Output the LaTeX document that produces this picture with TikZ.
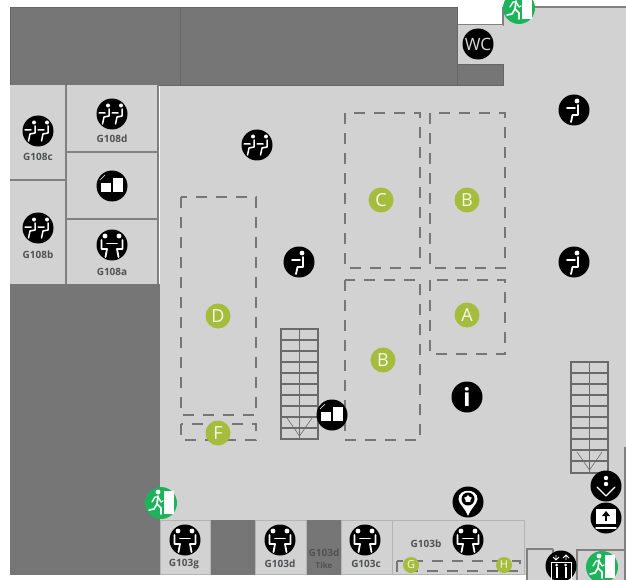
\documentclass[tikz,border=0pt]{standalone}
\usepackage{fontspec}
\setmainfont{Open Sans}
\usetikzlibrary{shapes.geometric}
\definecolor{floorgray}{HTML}{D2D2D2}
\definecolor{darkgray}{HTML}{767676}
\definecolor{wallgray}{HTML}{808080}
\definecolor{edgegray}{HTML}{B4B4B4}
\definecolor{labelgray}{HTML}{505153}
\definecolor{zonegreen}{HTML}{A5BC3C}
\definecolor{exitgreen}{HTML}{1CB35B}
\tikzset{
  room/.style={draw=edgegray,fill=floorgray,line width=1pt},
  partition/.style={draw=wallgray,line width=1.3pt},
  blockd/.style={draw=wallgray!80!black,fill=darkgray,line width=.8pt},
  zone/.style={draw=darkgray,line width=1.4pt,dash pattern=on 11pt off 9pt},
  tread/.style={draw=darkgray!90!black,line width=1.4pt},
  icon/.style={circle,fill=black,minimum size=31pt,inner sep=0pt,text=white},
  zonemark/.style={circle,fill=zonegreen,minimum size=25pt,inner sep=0pt,text=white!90!zonegreen,font=\fontsize{18}{18}\selectfont},
  zonesmall/.style={zonemark,minimum size=16pt,font=\fontsize{11}{11}\selectfont},
  exitmark/.style={circle,fill=exitgreen,minimum size=32pt,inner sep=0pt},
  roomname/.style={text=labelgray,font=\fontsize{10}{10}\bfseries\selectfont,inner sep=0pt},
  gl/.style={draw=white,line width=1.8pt,line cap=round,line join=round},
  seatone/.pic={
    \fill[white] (3,-9) circle (2.4);
    \draw[gl] (-7,-2)--(1,-2);
    \draw[gl] (4,-5)--(4,5)--(-1.5,5)--(-3,12);
  },
  seattwo/.pic={
    \fill[white] (-4,-8.5) circle (2) (9,-8.5) circle (2);
    \draw[gl,line width=1.5pt] (-13,-1)--(-7,-1) (-3,-5)--(-3,2)--(-8,3)--(-9.5,10);
    \draw[gl,line width=1.5pt] (0,-1)--(6,-1) (10,-5)--(10,2)--(5,3)--(3.5,10);
  },
  tablepair/.pic={
    \fill[white] (-7,-9) circle (2.4) (7,-9) circle (2.4);
    \draw[gl] (-10.5,-5)--(-10.5,4)--(-5,4)--(-6.5,12);
    \draw[gl] (10.5,-5)--(10.5,4)--(5,4)--(6.5,12);
    \draw[gl] (-5,-1.5)--(5,-1.5);
  },
  copier/.pic={
    \fill[white] (-11,-3) rectangle (-1,6);
    \fill[white] (1,-8) rectangle (11,6);
    \draw[white,line width=.5pt] (-12,-6)--(-7,-11);
  },
  pinmark/.pic={
    \fill[white] (0,14) .. controls (-2,7) and (-9.5,2) .. (-9.5,-3) .. controls (-9.5,-14) and (9.5,-14) .. (9.5,-3) .. controls (9.5,2) and (2,7) .. (0,14);
    \fill[black] (0,-3) circle (6.5);
    \node[star,star points=5,fill=white,minimum size=8pt,inner sep=0pt] (pinstar) at (0,-3) {};
  },
  liftdown/.pic={
    \fill[white] (0,-8) circle (2.2) (0,-2) circle (2.2);
    \draw[gl,line width=1.3pt] (-9,1)--(0,10)--(9,1);
  },
  goodsup/.pic={
    \fill[white] (-10,-9) rectangle (10,6);
    \draw[gl,line width=1.4pt] (-10,10)--(10,10);
    \draw[black,line width=1.5pt] (0,3)--(0,-3);
    \fill[black] (-4,-2)--(0,-7)--(4,-2)--cycle;
  },
  liftcar/.pic={
    \draw[white,line width=.8pt] (-10,-4) rectangle (10,16);
    \fill[white] (-4.5,-1) circle (1.5) (4.5,-1) circle (1.5);
    \draw[white,line width=2pt] (-4.5,1)--(-4.5,12) (4.5,1)--(4.5,12);
    \draw[white,line width=.8pt] (-5,-11)--(-5,-6) (-8,-9)--(-5,-6)--(-2,-9) (5,-6)--(5,-11) (2,-8)--(5,-11)--(8,-8);
  },
  exitman/.pic={
    \fill[white] (3,-12) rectangle (13,11);
    \fill[white] (-3,-11) circle (2.4);
    \draw[gl,line width=1.7pt] (-3,-7)--(-4,1)--(0,5)--(0,11);
    \draw[gl,line width=1.7pt] (-4,1)--(-7,6)--(-12,7);
    \draw[gl,line width=1.3pt] (-9,-1)--(-6,-6)--(-3,-6)--(0,-1)--(2,-2);
  },
}
\begin{document}
\begin{tikzpicture}[x=1pt,y=-1pt]
\useasboundingbox (0,0) rectangle (626,580);
% floor
\fill[floorgray] (160,85) rectangle (626,575);
\fill[floorgray] (503,7) rectangle (626,85);
\fill[floorgray] (527,575) rectangle (626,580);
\draw[wallgray,line width=1.2pt] (457,25)--(503,25)--(503,7) (503,7)--(626,7);
\draw[wallgray,line width=1.2pt] (625,447)--(625,580);
% dark blocks
\fill[floorgray] (457,25) rectangle (503,64);
\draw[blockd] (10,7) rectangle (180,85);
\draw[blockd] (180,7) rectangle (457,85);
\draw[blockd] (457,64) rectangle (503,85);
\draw[blockd,draw=none] (10,284) rectangle (160,575);
\draw[blockd,draw=none] (210,520) rectangle (255,575);
\draw[blockd,draw=none] (306,520) rectangle (341,575);
% rooms
\fill[floorgray] (10,85) rectangle (158,284);
\draw[partition] (66,85)--(66,284) (10,180)--(66,180) (66,152)--(158,152) (66,219)--(158,219);
\draw[partition] (158,85)--(158,284);
\draw[room] (160,520) rectangle (210,574);
\draw[room] (255,520) rectangle (306,574);
\draw[room] (341,520) rectangle (392,574);
\draw[room] (392,520) rectangle (524,574);
\fill[white] (395,575) rectangle (527,580);
\draw[wallgray,line width=1.2pt] (527,580)--(527,549)--(553,549) (553,580)--(553,549);
\draw[wallgray,line width=1.2pt] (577,580)--(577,550)--(625,550);
% zones
\draw[zone] (345,113) rectangle (420,268);
\draw[zone] (430,113) rectangle (505,268);
\draw[zone] (181,197) rectangle (256,415);
\draw[zone] (345,280) rectangle (420,440);
\draw[zone] (430,280) rectangle (505,354);
\draw[zone] (181,424) rectangle (256,440);
\draw[zone] (397,561) rectangle (520,571);
% stairs
\draw[tread] (281,329) rectangle (318,439) (299.5,329)--(299.5,439);
\foreach \rung in {1,...,9} \draw[tread] (281,329+11*\rung)--(318,329+11*\rung);
\draw[tread,line width=.6pt] (287,418)--(299.5,436)--(312,418);
\draw[tread] (571,362) rectangle (608,473) (589.5,362)--(589.5,473);
\foreach \rung in {1,...,9} \draw[tread] (571,362+11*\rung)--(608,362+11*\rung);
\draw[tread,line width=.6pt] (577,452)--(589.5,470)--(602,452);
% zone marks
\node[zonemark] (zoneC) at (381,200) {C};
\node[zonemark] (zoneBa) at (467,200) {B};
\node[zonemark] (zoneD) at (218,316) {D};
\node[zonemark] (zoneBb) at (383,360) {B};
\node[zonemark] (zoneA) at (467,315) {A};
\node[zonemark] (zoneF) at (218,433) {F};
\node[zonesmall] (zoneG) at (411,565) {G};
\node[zonesmall] (zoneH) at (504,565) {H};
% icons
\node[icon] (lounge) at (257,145) {}; \pic at (lounge) {seattwo};
\node[icon] (seatmid) at (299,262) {}; \pic at (seatmid) {seatone};
\node[icon] (seatne) at (574,110) {}; \pic at (seatne) {seatone};
\node[icon] (seate) at (574,262) {}; \pic at (seate) {seatone};
\node[icon] (g108c) at (38,131) {}; \pic at (g108c) {seattwo};
\node[icon] (g108d) at (112,114) {}; \pic at (g108d) {seattwo};
\node[icon] (g108b) at (38,228) {}; \pic at (g108b) {seattwo};
\node[icon] (g108a) at (112,245) {}; \pic at (g108a) {tablepair};
\node[icon] (printa) at (112,186) {}; \pic at (printa) {copier};
\node[icon] (printb) at (332,415) {}; \pic at (printb) {copier};
\node[icon,font=\fontsize{25}{25}\bfseries\selectfont] (info) at (467,397) {i};
\node[icon,text=white!85!black,font=\fontsize{17}{17}\selectfont] (wc) at (478,44) {WC};
\node[icon] (pin) at (468,502) {}; \pic at (pin) {pinmark};
\node[icon] (down) at (606,486) {}; \pic at (down) {liftdown};
\node[icon] (goods) at (606,518) {}; \pic at (goods) {goodsup};
\node[icon] (g103g) at (185,540) {}; \pic at (g103g) {tablepair};
\node[icon] (g103d) at (280,540) {}; \pic at (g103d) {tablepair};
\node[icon] (g103c) at (365,540) {}; \pic at (g103c) {tablepair};
\node[icon] (g103b) at (468,540) {}; \pic at (g103b) {tablepair};
\node[icon] (lift) at (561,566) {}; \pic at (lift) {liftcar};
% exits
\node[exitmark] (exitw) at (161,503) {}; \pic at (exitw) {exitman};
\node[exitmark] (exitn) at (519,8) {}; \pic at (exitn) {exitman};
\node[exitmark] (exits) at (602,567) {}; \pic at (exits) {exitman};
% room names
\node[roomname] (nameC) at (38,157) {G108c};
\node[roomname] (nameD) at (112,139) {G108d};
\node[roomname] (nameB) at (38,255) {G108b};
\node[roomname] (nameA) at (112,272) {G108a};
\node[roomname] (nameG) at (184,564) {G103g};
\node[roomname] (nameDd) at (280,564) {G103d};
\node[roomname] (nameT) at (324,553) {G103d};
\node[roomname,font=\fontsize{8}{8}\bfseries\selectfont] (nameTk) at (324,565) {Tike};
\node[roomname] (nameCc) at (366,564) {G103c};
\node[roomname] (nameBb) at (426,544) {G103b};
\end{tikzpicture}
\end{document}
